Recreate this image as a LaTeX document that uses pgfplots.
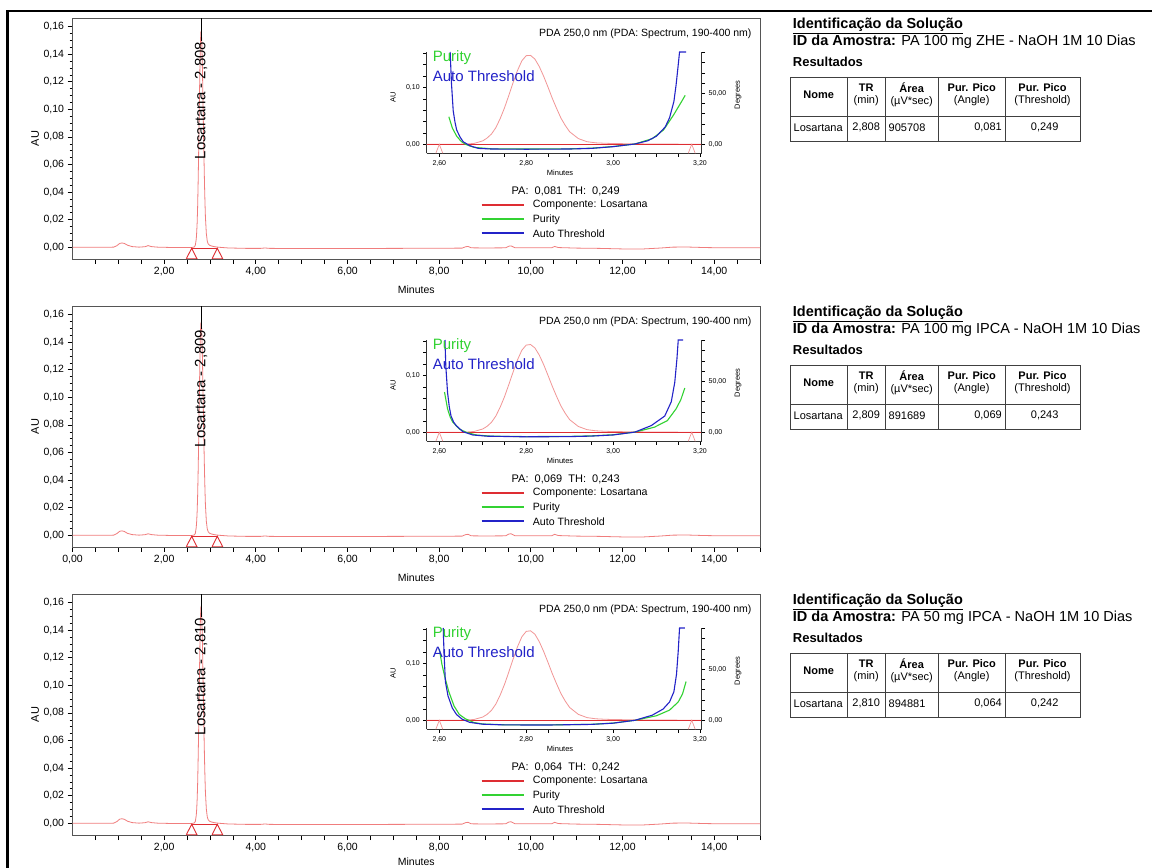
\documentclass[border=0pt]{standalone}
\usepackage{fontspec}
\setmainfont{Liberation Sans}
\usepackage{pgfplots}
\usepackage{pgfplotstable}
\pgfplotsset{compat=1.18}

\definecolor{chrom}{RGB}{240,125,125}
\definecolor{chromlight}{RGB}{242,150,150}
\definecolor{mkred}{RGB}{222,45,50}
\definecolor{pgreen}{RGB}{50,210,50}
\definecolor{pblue}{RGB}{35,35,200}
\definecolor{axgray}{RGB}{85,85,85}

% ---------------- chromatograms (min, AU) ----------------
\pgfplotstableread{
x y
0.00 0.0000
0.50 0.0000
0.90 0.0001
0.97 0.0012
1.03 0.0028
1.08 0.0031
1.13 0.0028
1.20 0.0015
1.30 0.0005
1.45 0.0001
1.58 0.0004
1.65 0.0012
1.72 0.0005
1.85 0.0001
2.10 -0.0001
2.40 -0.0002
2.60 -0.0002
2.64 0.0001
2.66 0.0003
2.68 0.0015
2.70 0.0060
2.71 0.0110
2.72 0.0180
2.73 0.0290
2.74 0.0450
2.75 0.0640
2.76 0.0860
2.77 0.1090
2.78 0.1300
2.79 0.1470
2.80 0.1560
2.81 0.1565
2.82 0.1500
2.83 0.1370
2.84 0.1200
2.85 0.1010
2.86 0.0810
2.87 0.0630
2.88 0.0460
2.89 0.0330
2.90 0.0220
2.92 0.0100
2.94 0.0045
2.96 0.0025
2.98 0.0018
3.00 0.0013
3.05 0.0008
3.10 0.0004
3.20 0.0000
3.40 -0.0005
3.80 -0.0008
4.10 -0.0008
4.20 -0.0005
4.30 -0.0008
5.00 -0.0009
6.00 -0.0009
7.00 -0.0008
8.00 -0.0007
8.50 -0.0006
8.58 0.0004
8.63 0.0006
8.70 -0.0004
9.00 -0.0005
9.45 -0.0004
9.52 0.0008
9.57 0.0010
9.65 -0.0003
10.00 -0.0004
10.45 -0.0004
10.52 0.0006
10.60 -0.0002
11.00 -0.0006
11.50 -0.0008
12.00 -0.0012
12.40 -0.0013
12.80 -0.0006
13.10 0.0001
13.40 0.0002
13.80 -0.0002
14.20 -0.0004
15.00 -0.0004
}\chromA

\pgfplotstableread{
x y
0.00 0.0000
0.50 0.0000
0.90 0.0001
0.97 0.0013
1.03 0.0029
1.08 0.0032
1.13 0.0028
1.20 0.0014
1.30 0.0005
1.45 0.0001
1.58 0.0004
1.65 0.0011
1.72 0.0005
1.85 0.0001
2.10 -0.0001
2.40 -0.0002
2.60 -0.0002
2.64 0.0001
2.66 0.0003
2.68 0.0014
2.70 0.0058
2.71 0.0105
2.72 0.0175
2.73 0.0285
2.74 0.0440
2.75 0.0625
2.76 0.0840
2.77 0.1065
2.78 0.1275
2.79 0.1445
2.80 0.1535
2.81 0.1545
2.82 0.1485
2.83 0.1360
2.84 0.1195
2.85 0.1005
2.86 0.0810
2.87 0.0630
2.88 0.0462
2.89 0.0332
2.90 0.0222
2.92 0.0102
2.94 0.0046
2.96 0.0026
2.98 0.0018
3.00 0.0013
3.05 0.0008
3.10 0.0004
3.20 0.0000
3.40 -0.0005
3.80 -0.0008
4.10 -0.0008
4.20 -0.0005
4.30 -0.0008
5.00 -0.0009
6.00 -0.0009
7.00 -0.0008
8.00 -0.0007
8.50 -0.0006
8.58 0.0005
8.63 0.0007
8.70 -0.0004
9.00 -0.0005
9.45 -0.0004
9.52 0.0009
9.57 0.0011
9.65 -0.0003
10.00 -0.0004
10.45 -0.0004
10.52 0.0007
10.60 -0.0002
11.00 -0.0006
11.50 -0.0008
12.00 -0.0012
12.40 -0.0013
12.80 -0.0006
13.10 0.0001
13.40 0.0002
13.80 -0.0002
14.20 -0.0004
15.00 -0.0004
}\chromB

\pgfplotstableread{
x y
0.00 0.0000
0.50 0.0000
0.90 0.0001
0.97 0.0013
1.03 0.0030
1.08 0.0033
1.13 0.0029
1.20 0.0015
1.30 0.0005
1.45 0.0001
1.58 0.0004
1.65 0.0011
1.72 0.0005
1.85 0.0001
2.10 -0.0001
2.40 -0.0002
2.60 -0.0002
2.64 0.0001
2.66 0.0003
2.68 0.0014
2.70 0.0057
2.71 0.0104
2.72 0.0174
2.73 0.0284
2.74 0.0442
2.75 0.0630
2.76 0.0850
2.77 0.1080
2.78 0.1295
2.79 0.1470
2.80 0.1565
2.81 0.1575
2.82 0.1515
2.83 0.1385
2.84 0.1215
2.85 0.1022
2.86 0.0822
2.87 0.0640
2.88 0.0470
2.89 0.0336
2.90 0.0225
2.92 0.0104
2.94 0.0047
2.96 0.0026
2.98 0.0018
3.00 0.0013
3.05 0.0008
3.10 0.0004
3.20 0.0000
3.40 -0.0005
3.80 -0.0008
4.10 -0.0008
4.20 -0.0005
4.30 -0.0008
5.00 -0.0009
6.00 -0.0009
7.00 -0.0008
8.00 -0.0007
8.50 -0.0006
8.58 0.0005
8.63 0.0007
8.70 -0.0004
9.00 -0.0005
9.45 -0.0004
9.52 0.0009
9.57 0.0011
9.65 -0.0003
10.00 -0.0004
10.45 -0.0004
10.52 0.0007
10.60 -0.0002
11.00 -0.0006
11.50 -0.0008
12.00 -0.0012
12.40 -0.0013
12.80 -0.0006
13.10 0.0001
13.40 0.0002
13.80 -0.0002
14.20 -0.0004
15.00 -0.0004
}\chromC

% ---------------- purity / threshold (min, degrees) ----------------
\pgfplotstableread{
x y
2.622 27
2.630 16
2.640 8
2.650 3
2.660 0
2.680 -3.0
2.720 -4.4
2.800 -4.6
2.900 -4.4
2.950 -3.8
3.000 -2.2
3.050 0.3
3.090 5.5
3.116 14
3.139 28.6
3.155 40
3.166 48
}\purA
\pgfplotstableread{
x y
2.625 90.5
2.628 60
2.632 33
2.636 22
2.640 14
2.648 7
2.655 2.5
2.670 -1.3
2.690 -4.0
2.720 -4.6
2.800 -4.8
2.900 -4.6
2.950 -4.0
3.000 -2.3
3.050 0.3
3.080 3.5
3.100 8
3.120 17
3.130 26
3.140 42
3.145 58
3.150 78
3.153 90.5
3.168 90.5
}\thrA

\pgfplotstableread{
x y
2.612 39.5
2.619 23
2.625 15
2.631 10
2.646 3.3
2.662 0
2.685 -2.6
2.720 -3.8
2.800 -4.2
2.900 -4.0
2.950 -3.5
3.000 -2.4
3.050 0.2
3.095 5
3.125 11.5
3.145 23
3.156 32
3.165 43.4
}\purB
\pgfplotstableread{
x y
2.613 90.5
2.615 65
2.619 39
2.623 25
2.627 16
2.633 10
2.639 6.6
2.654 0.7
2.677 -2.6
2.710 -3.8
2.800 -4.4
2.900 -4.2
2.950 -3.7
3.000 -2.6
3.050 0.2
3.088 6.6
3.119 16
3.134 30
3.142 49
3.147 72
3.150 90.5
3.161 90.5
}\thrB

\pgfplotstableread{
x y
2.600 70
2.606 55
2.613 42
2.622 28
2.634 14
2.646 5.8
2.660 1.5
2.680 -2.2
2.700 -3.6
2.750 -4.4
2.850 -4.5
2.950 -3.9
3.000 -2.7
3.050 0.0
3.100 4.5
3.130 10
3.150 18
3.160 26
3.168 38
}\purC
\pgfplotstableread{
x y
2.609 90.5
2.611 65
2.614 38
2.620 24
2.630 12
2.640 5.5
2.653 1
2.670 -2
2.700 -3.8
2.750 -4.5
2.850 -4.6
2.950 -4.0
3.000 -2.8
3.050 0.0
3.090 5
3.115 11
3.130 18
3.140 28
3.146 45
3.150 68
3.153 90.5
3.165 90.5
}\thrC

\pgfplotsset{
  mainax/.style={
    scale only axis, width=687.5pt, height=241pt,
    xmin=0, xmax=15, ymin=-0.0085, ymax=0.1663,
    axis line style={draw=axgray, line width=0.8pt},
    tick align=outside, xtick pos=bottom, ytick pos=left,
    major tick length=5pt, minor tick length=3pt,
    tick style={black, line width=0.7pt},
    ytick={0,0.02,0.04,0.06,0.08,0.10,0.12,0.14,0.16},
    yticklabels={{0,00},{0,02},{0,04},{0,06},{0,08},{0,10},{0,12},{0,14},{0,16}},
    minor y tick num=3,
    tick label style={font=\fontsize{10.5}{12}\selectfont},
    xlabel={Minutes},
    xlabel style={font=\fontsize{10.5}{12}\selectfont, at={(axis description cs:0.5,-0.128)}, anchor=center},
    ylabel={AU},
    ylabel style={font=\fontsize{11}{12}\selectfont, at={(axis description cs:-0.0545,0.5)}, anchor=center},
  },
  xnozero/.style={
    xtick={0.5,1,1.5,2,2.5,3,3.5,4,4.5,5,5.5,6,6.5,7,7.5,8,8.5,9,9.5,10,10.5,11,11.5,12,12.5,13,13.5,14,14.5,15},
    xticklabels={,,,{2,00},,,,{4,00},,,,{6,00},,,,{8,00},,,,{10,00},,,,{12,00},,,,{14,00},,},
  },
  xnozerolow/.style={
    xnozero,
    xlabel style={at={(axis description cs:0.5,-0.113)}},
  },
  xzero/.style={
    xtick={0,0.5,1,1.5,2,2.5,3,3.5,4,4.5,5,5.5,6,6.5,7,7.5,8,8.5,9,9.5,10,10.5,11,11.5,12,12.5,13,13.5,14,14.5,15},
    xticklabels={{0,00},,,,{2,00},,,,{4,00},,,,{6,00},,,,{8,00},,,,{10,00},,,,{12,00},,,,{14,00},,},
  },
  insetbase/.style={
    scale only axis, width=275pt, height=101.6pt,
    xmin=2.571, xmax=3.204,
    axis line style={draw=black!80, line width=0.6pt},
    tick align=outside, major tick length=3.5pt,
    tick style={black, line width=0.6pt},
    tick label style={font=\fontsize{7}{8}\selectfont},
  },
  insetL/.style={
    insetbase, ymin=-0.0159, ymax=0.163,
    axis x line*=bottom, axis y line*=left,
    xtick={2.6,2.65,2.7,2.75,2.8,2.85,2.9,2.95,3,3.05,3.1,3.15,3.2},
    xticklabels={{2,60},,,,{2,80},,,,{3,00},,,,{3,20}},
    ytick={0,0.02,0.04,0.06,0.08,0.1,0.12,0.14,0.16},
    yticklabels={{0,00},,,,,{0,10},,,},
    xlabel={Minutes},
    xlabel style={font=\fontsize{7.5}{8}\selectfont, at={(axis description cs:0.485,-0.194)}, anchor=center},
    ylabel={AU},
    ylabel style={font=\fontsize{7.5}{8}\selectfont, at={(axis description cs:-0.1225,0.554)}, anchor=center},
  },
  insetR/.style={
    insetbase, ymin=-8.8, ymax=90.8, clip=false,
    axis y line*=right, axis x line=none,
    ytick={0,10,20,30,40,50,60,70,80,90},
    yticklabels={{0,00},,,,,{50,00},,,,},
    ylabel={Degrees},
    ylabel style={font=\fontsize{7.5}{8}\selectfont, at={(axis description cs:1.132,0.574)}, anchor=center},
  },
}

% #1 yshift, #2 chrom, #3 purity, #4 threshold, #5 TR text, #6 PA, #7 TH, #8 xtick style
\newcommand{\panel}[8]{%
\begin{axis}[mainax, #8, at={(72.5pt,{609pt+#1pt})}, anchor=south west]
\addplot[chrom, line width=0.8pt] table {#2};
\addplot[mkred, line width=0.9pt] coordinates {(2.484,-0.0083) (2.6,-0.0007) (2.716,-0.0083) (2.484,-0.0083)};
\addplot[mkred, line width=0.9pt] coordinates {(3.044,-0.0083) (3.16,-0.0007) (3.276,-0.0083) (3.044,-0.0083)};
\addplot[mkred, line width=0.9pt] coordinates {(2.6,-0.0007) (3.16,-0.0007)};
\node[rotate=90, font=\fontsize{15}{18}\selectfont, inner sep=0pt] at (axis cs:2.808,0.1065) {Losartana - #5};
\draw[draw=black, line width=0.8pt] (axis cs:2.808,0.1495) -- (axis cs:2.808,0.1663);
\end{axis}
\begin{axis}[insetL, at={(426.7pt,{714.7pt+#1pt})}, anchor=south west]
\addplot[chromlight, line width=0.8pt] table {#2};
\addplot[mkred, line width=1pt] coordinates {(2.571,0) (3.204,0)};
\addplot[chromlight, line width=0.7pt] coordinates {(2.592,-0.0159) (2.6,0) (2.608,-0.0159)};
\addplot[chromlight, line width=0.7pt] coordinates {(3.173,-0.0159) (3.181,0) (3.189,-0.0159)};
\end{axis}
\begin{axis}[insetR, at={(426.7pt,{714.7pt+#1pt})}, anchor=south west]
\addplot[pgreen, line width=1.1pt] table {#3};
\addplot[pblue, line width=1.1pt] table {#4};
% legend sample lines
\addplot[draw={rgb,255:red,222;green,45;blue,50}, line width=1.5pt, forget plot] coordinates {(2.6976,-59.5) (2.7950,-59.5)};
\addplot[draw={rgb,255:red,50;green,210;blue,50}, line width=1.8pt, forget plot] coordinates {(2.6976,-73.5) (2.7950,-73.5)};
\addplot[draw={rgb,255:red,35;green,35;blue,200}, line width=1.8pt, forget plot] coordinates {(2.6976,-87.2) (2.7950,-87.2)};
\end{axis}
\node[anchor=east, inner sep=0pt, font=\fontsize{10.5}{12}\selectfont] at (751.7pt,{834.7pt+#1pt}) {PDA 250,0 nm (PDA: Spectrum, 190-400 nm)};
\node[anchor=west, inner sep=0pt, text=pgreen, font=\fontsize{15}{18}\selectfont] at (432.7pt,{810.7pt+#1pt}) {Purity};
\node[anchor=west, inner sep=0pt, text=pblue, font=\fontsize{15}{18}\selectfont] at (432.7pt,{792pt+#1pt}) {Auto Threshold};
\node[inner sep=0pt, font=\fontsize{11}{13}\selectfont] at (565.7pt,{676.3pt+#1pt}) {PA:\ \ #6\ \ TH:\ \ #7};
\node[anchor=west, inner sep=0pt, font=\fontsize{10.6}{12}\selectfont] at (532.7pt,{663pt+#1pt}) {Componente: Losartana};
\node[anchor=west, inner sep=0pt, font=\fontsize{10.6}{12}\selectfont] at (532.7pt,{648.7pt+#1pt}) {Purity};
\node[anchor=west, inner sep=0pt, font=\fontsize{10.6}{12}\selectfont] at (532.7pt,{634.7pt+#1pt}) {Auto Threshold};
}

% #1 yshift, #2 sample, #3 TR, #4 area, #5 angle, #6 threshold
\newcommand{\infoblock}[6]{%
\begin{scope}[yshift=#1]
\draw[draw=black!75, line width=0.8pt] (790pt,791pt) rectangle (1080pt,727pt);
\draw[draw=black!75, line width=0.8pt] (790pt,752pt) -- (1080pt,752pt);
\foreach \cx in {847.3,885,938.3,1005} {\draw[draw=black!75, line width=0.8pt] (\cx pt,791pt) -- (\cx pt,727pt);}
\node[anchor=west, inner sep=0pt, font=\fontsize{14.5}{16}\selectfont\bfseries] at (792.7pt,842.3pt) {\underline{Identificação da Solução}};
\node[anchor=west, inner sep=0pt, font=\fontsize{14.5}{16}\selectfont] at (792.7pt,826pt) {\textbf{ID da Amostra:} #2};
\node[anchor=west, inner sep=0pt, font=\fontsize{13}{15}\selectfont\bfseries] at (792.7pt,806pt) {Resultados};
\begin{scope}[every node/.style={inner sep=0pt, align=center, font=\fontsize{11}{11.5}\selectfont}]
\node at (818.7pt,773.3pt) {\textbf{Nome}};
\node at (866.2pt,773.3pt) {\textbf{TR}\\(min)};
\node at (911.7pt,773.3pt) {\textbf{Área}\\(µV*sec)};
\node at (971.7pt,773.3pt) {\textbf{Pur. Pico}\\(Angle)};
\node at (1042.5pt,773.3pt) {\textbf{Pur. Pico}\\(Threshold)};
\node at (818.2pt,740.5pt) {Losartana};
\node at (866.2pt,740.5pt) {#3};
\node[anchor=west] at (888.5pt,740.5pt) {#4};
\node[anchor=east] at (1002pt,740.5pt) {#5};
\node at (1044.7pt,740.5pt) {#6};
\end{scope}
\end{scope}
}

\begin{document}
\begin{tikzpicture}
\useasboundingbox (0pt,0pt) rectangle (1152pt,868pt);
\fill[white] (0pt,0pt) rectangle (1152pt,868pt);
\draw[draw=black, line width=2.6pt] (7.5pt,0pt) -- (7.5pt,857pt) -- (1152pt,857pt);

\panel{0}{\chromA}{\purA}{\thrA}{2,808}{0,081}{0,249}{xnozero}
\panel{-288}{\chromB}{\purB}{\thrB}{2,809}{0,069}{0,243}{xzero}
\panel{-576}{\chromC}{\purC}{\thrC}{2,810}{0,064}{0,242}{xnozerolow}

\infoblock{0pt}{PA 100 mg ZHE - NaOH 1M 10 Dias}{2,808}{905708}{0,081}{0,249}
\infoblock{-288pt}{PA 100 mg IPCA - NaOH 1M 10 Dias}{2,809}{891689}{0,069}{0,243}
\infoblock{-576pt}{PA 50 mg IPCA - NaOH 1M 10 Dias}{2,810}{894881}{0,064}{0,242}
\end{tikzpicture}
\end{document}
